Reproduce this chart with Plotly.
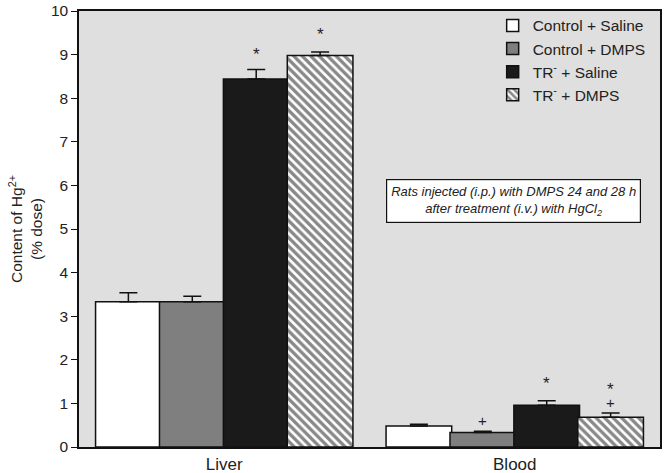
import plotly.graph_objects as go

# data
organs = ['Liver', 'Blood']
groups = ['Control + Saline', 'Control + DMPS', 'TR<sup>-</sup> + Saline', 'TR<sup>-</sup> + DMPS']
means = [[3.33, 0.48],
         [3.33, 0.33],
         [8.44, 0.96],
         [8.98, 0.68]]
sems = [[0.21, 0.04],
        [0.13, 0.03],
        [0.22, 0.10],
        [0.08, 0.10]]
# significance marks (group index, organ index, text, y)
marks = [(2, 0, '*', 9.0), (3, 0, '*', 9.45),
         (1, 1, '+', 0.6), (2, 1, '*', 1.45), (3, 1, '*', 1.33), (3, 1, '+', 1.03)]

fills = ['white', '#7f7f7f', '#1a1a1a', 'white']
bargap = 0.12
bw = (1 - bargap) / len(groups)

fig = go.Figure()
for i, g in enumerate(groups):
    marker = dict(color=fills[i], line=dict(color='#111', width=1.5))
    if i == 3:
        marker['pattern'] = dict(shape='\\', fgcolor='#111', bgcolor='white', size=6, solidity=0.55)
    fig.add_trace(go.Bar(
        x=organs, y=means[i], name=g, marker=marker, width=bw + 0.006,
        error_y=dict(type='data', symmetric=False, array=sems[i], arrayminus=[0, 0],
                     color='#111', thickness=1.5, width=9),
    ))

# positions of the grouped bars on the category axis
for gi, oi, txt, yv in marks:
    xc = oi - (1 - bargap) / 2 + bw * (gi + 0.5)
    fig.add_annotation(x=xc, y=yv, text=txt, showarrow=False,
                       font=dict(size=17 if txt == '*' else 15, color='#222'))

fig.add_annotation(
    x=0.747, y=0.564, xref='paper', yref='paper', xanchor='center', yanchor='middle',
    text='<i>Rats injected (i.p.) with DMPS 24 and 28 h<br>after treatment (i.v.) with HgCl<sub>2</sub></i>',
    showarrow=False, bgcolor='white', bordercolor='#111', borderwidth=1.2, borderpad=4,
    font=dict(size=13, color='#222'), align='center')

fig.update_layout(
    width=664, height=473,
    margin=dict(l=79, r=4, t=11, b=26),
    barmode='group', bargap=bargap, bargroupgap=0,
    plot_bgcolor='#dfdfdf', paper_bgcolor='white',
    font=dict(family='Liberation Sans, Arial', color='#222'),
    legend=dict(x=0.712, y=1.005, xanchor='left', yanchor='top',
                bgcolor='rgba(0,0,0,0)', font=dict(size=15.5), tracegroupgap=1),
    xaxis=dict(range=[-0.5, 1.5], showline=True, linecolor='#111', linewidth=1.5,
               mirror=True, ticks='', tickfont=dict(size=17), automargin=False,
               ticklabelstandoff=1),
    yaxis=dict(range=[0, 10], dtick=1, showline=True, linecolor='#111', linewidth=1.5,
               mirror=True, ticks='outside', ticklen=6, tickcolor='#111',
               showgrid=False, zeroline=False, tickfont=dict(size=15.5), automargin=False,
               title=dict(text='Content of Hg<sup>2+</sup><br>(% dose)', font=dict(size=15.5),
                          standoff=4)),
)

# drop the browser's default body margin so the figure sits at the page corner
fig.write_html('out.html', config={'displayModeBar': False},
               post_script="document.body.style.margin='0';")
